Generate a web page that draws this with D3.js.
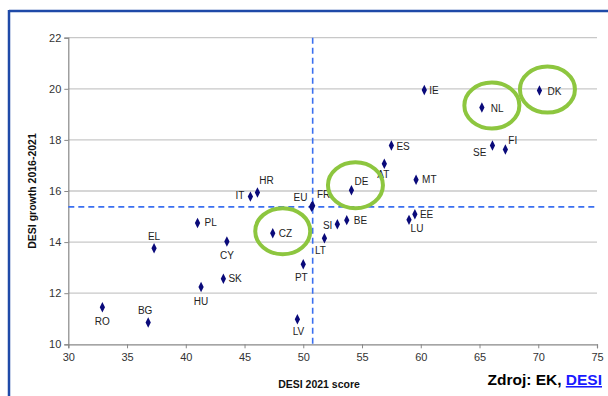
<!DOCTYPE html>
<html>
<head>
<meta charset="utf-8">
<script src="https://cdn.jsdelivr.net/npm/d3@7"></script>
<style>
  html, body { margin: 0; padding: 0; background: #fff; }
  svg { display: block; }
  .tick text { font-family: "Liberation Sans Narrow", "Arial Narrow", "Liberation Sans", Arial, sans-serif; font-size: 11px; fill: #333; }
  .lbl { font-family: "Liberation Sans", Arial, sans-serif; font-size: 10px; fill: #222; }
</style>
</head>
<body>
<svg id="chart" width="608" height="396"></svg>
<script>
// Country codes, DESI 2021 score and DESI growth 2016-2021
const countries = ["RO","BG","EL","PL","HU","CY","SK","IT","HR","CZ","PT","LV","FR","EU","LT","SI","BE","DE","AT","ES","MT","IE","EE","LU","NL","DK","SE","FI"];
const desiScore = [32.9,36.8,37.3,41.0,41.3,43.5,43.2,45.5,46.1,47.4,50.0,49.5,50.8,50.7,51.8,52.9,53.7,54.1,56.9,57.5,59.6,60.3,59.5,59.0,65.2,70.1,66.1,67.2];
const desiGrowth = [11.45,10.85,13.76,14.75,12.24,14.02,12.57,15.78,15.94,14.35,13.13,10.98,15.42,15.38,14.15,14.70,14.86,16.03,17.07,17.78,16.44,19.95,15.09,14.87,19.27,19.93,17.78,17.62];

// EU average reference lines
const euAvgScore = 50.8;
const euAvgGrowth = 15.38;

// Highlighted countries
const highlighted = ["NL","DK","DE","CZ"];

const xTicks = [30,35,40,45,50,55,60,65,70,75];
const yTicks = [10,12,14,16,18,20,22];

// Label placement around each marker: [anchor, dx, dy]
const labelPos = {
  RO:["middle",0,14], BG:["middle",-3,-12], EL:["middle",0,-12], PL:["start",7,0],
  HU:["middle",0,14], CY:["middle",0,14], SK:["start",5,0], IT:["end",-6,-1],
  HR:["middle",9,-12], CZ:["start",6,0], PT:["middle",-2,13], LV:["middle",1,12],
  FR:["middle",11,-11], EU:["middle",-11,-9], LT:["middle",-4,12], SI:["end",-5,1],
  BE:["start",7,0], DE:["start",3,-9], AT:["middle",-1,11], ES:["start",5,1],
  MT:["start",6,0], IE:["start",5,0], EE:["start",5,0], LU:["middle",8,9],
  NL:["start",9,1], DK:["start",8,1], SE:["end",-6,7], FI:["start",3,-9]
};
const ringOffset = { NL:[10,-2], DK:[8,-1], DE:[4,-5], CZ:[10,-2] };

const svg = d3.select("#chart");
const plot = { left: 68.3, right: 597, top: 37.7, bottom: 344.3 };

const x = d3.scaleLinear().domain([30, 75]).range([plot.left, plot.right]);
const y = d3.scaleLinear().domain([10, 22]).range([plot.bottom, plot.top]);

// Page frame
svg.append("line").attr("x1", 9).attr("x2", 608).attr("y1", 11).attr("y2", 11)
  .attr("stroke", "#1f4aa8").attr("stroke-width", 2.5);
svg.append("line").attr("x1", 9).attr("x2", 9).attr("y1", 10).attr("y2", 396)
  .attr("stroke", "#1f4aa8").attr("stroke-width", 2.5);

// Horizontal gridlines
svg.append("g").selectAll("line").data(yTicks.filter(d => d > 10)).join("line")
  .attr("x1", plot.left).attr("x2", plot.right)
  .attr("y1", d => y(d)).attr("y2", d => y(d))
  .attr("stroke", "#c8c8c8").attr("stroke-width", 1.3);

// Axes
const yAxis = svg.append("g").attr("transform", `translate(${plot.left},0)`)
  .call(d3.axisLeft(y).tickValues(yTicks).tickSize(4).tickPadding(3));
const xAxis = svg.append("g").attr("transform", `translate(0,${plot.bottom})`)
  .call(d3.axisBottom(x).tickValues(xTicks).tickSize(4).tickPadding(5));
[yAxis, xAxis].forEach(g => {
  g.select(".domain").attr("stroke", "#888").attr("stroke-width", 1.2);
  g.selectAll(".tick line").attr("stroke", "#888");
});

// EU average dashed lines
svg.append("line")
  .attr("x1", plot.left).attr("x2", plot.right)
  .attr("y1", y(euAvgGrowth)).attr("y2", y(euAvgGrowth))
  .attr("stroke", "#3a6ff0").attr("stroke-width", 1.6).attr("stroke-dasharray", "6,4");
svg.append("line")
  .attr("x1", x(euAvgScore)).attr("x2", x(euAvgScore))
  .attr("y1", plot.top).attr("y2", plot.bottom)
  .attr("stroke", "#3a6ff0").attr("stroke-width", 1.6).attr("stroke-dasharray", "6,4");

const data = countries.map((c, i) => ({ code: c, score: desiScore[i], growth: desiGrowth[i] }));

// Markers
const diamond = d3.symbol().type(d3.symbolDiamond).size(24);
svg.append("g").selectAll("path").data(data).join("path")
  .attr("d", diamond)
  .attr("transform", d => `translate(${x(d.score)},${y(d.growth)}) scale(1,1.15)`)
  .attr("fill", "#0a0a7a");

// Country labels
svg.append("g").selectAll("text").data(data).join("text")
  .attr("class", "lbl")
  .attr("x", d => x(d.score) + labelPos[d.code][1])
  .attr("y", d => y(d.growth) + labelPos[d.code][2])
  .attr("dy", "0.35em")
  .attr("text-anchor", d => labelPos[d.code][0])
  .text(d => d.code);

// Highlight rings
svg.append("g").selectAll("ellipse").data(data.filter(d => highlighted.includes(d.code))).join("ellipse")
  .attr("cx", d => x(d.score) + ringOffset[d.code][0])
  .attr("cy", d => y(d.growth) + ringOffset[d.code][1])
  .attr("rx", 27.5).attr("ry", 23)
  .attr("fill", "none").attr("stroke", "#8dc63f").attr("stroke-width", 4);

// Axis titles
svg.append("text")
  .attr("transform", `translate(36,${(plot.top + plot.bottom) / 2}) rotate(-90)`)
  .attr("text-anchor", "middle")
  .style("font-family", "Liberation Sans, Arial, sans-serif")
  .style("font-size", "10.5px").style("font-weight", "bold").attr("fill", "#111")
  .text("DESI growth 2016-2021");
svg.append("text")
  .attr("x", 319).attr("y", 388).attr("text-anchor", "middle")
  .style("font-family", "Liberation Sans Narrow, Arial Narrow, Liberation Sans, Arial, sans-serif")
  .style("font-size", "10.5px").style("font-weight", "bold").attr("fill", "#111")
  .text("DESI 2021 score");

// Source note
const src = svg.append("text")
  .attr("x", 602).attr("y", 385).attr("text-anchor", "end")
  .style("font-family", "Liberation Sans, Arial, sans-serif")
  .style("font-size", "15.5px").style("font-weight", "bold").attr("fill", "#000");
src.append("tspan").text("Zdroj: EK, ");
src.append("tspan").attr("fill", "#1a1aff").attr("text-decoration", "underline").text("DESI");
</script>
</body>
</html>
